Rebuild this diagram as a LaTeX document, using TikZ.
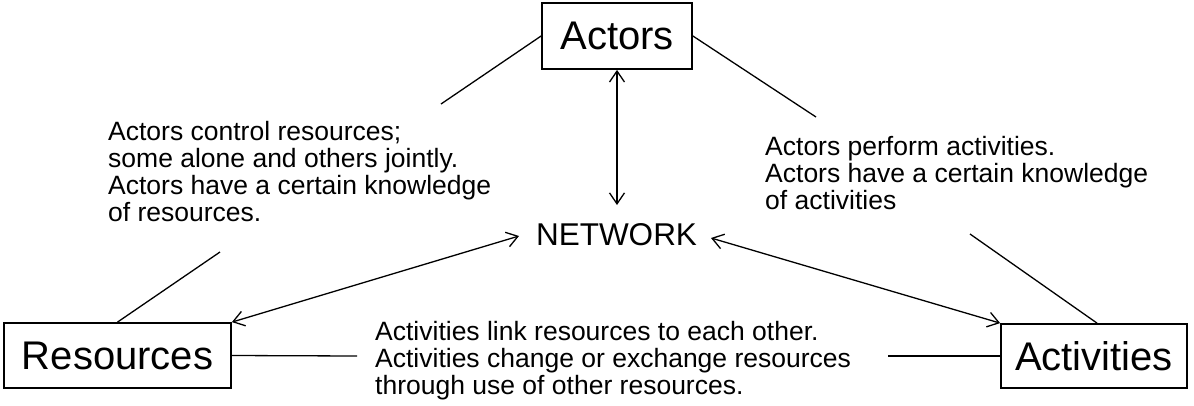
\documentclass[tikz,border=0pt]{standalone}
\usepackage{fontspec}
\setmainfont{Liberation Sans}
\usetikzlibrary{arrows.meta}
\begin{document}
\begin{tikzpicture}[x=1pt,y=-1pt,
  box/.style={draw,line width=1.8pt,inner sep=0pt,font=\fontsize{40}{44}\selectfont},
  ln/.style={line width=1.3pt},
  dbl/.style={line width=1.3pt,{Straight Barb[length=11pt,width=15pt]}-{Straight Barb[length=11pt,width=15pt]}},
  body/.style={align=left,inner sep=0pt,anchor=north west,font=\fontsize{26.5}{26.9}\selectfont}]
\useasboundingbox (0,0) rectangle (1194,405);
\node[box,minimum width=150pt,minimum height=66pt] (act) at (617,36) {Actors};
\node[box,minimum width=227pt,minimum height=65pt] (res) at (117.5,355.5) {Resources};
\node[box,minimum width=186pt,minimum height=64pt] (actv) at (1094,356) {Activities};
\node[inner sep=0pt,font=\fontsize{31.5}{34}\selectfont] (net) at (616.5,235) {NETWORK};
\coordinate (nt) at (617,205);
\coordinate (nl) at (519,236);
\coordinate (nr) at (711,238);
\draw[dbl] (act.south) -- (nt);
\draw[dbl] (nl) -- (res.north east);
\draw[dbl] (nr) -- (actv.north west);
\coordinate (c1) at (441,104);
\coordinate (c2) at (816,117);
\coordinate (c3) at (220,252);
\coordinate (c4) at (970,234);
\coordinate (c5) at (357,356);
\coordinate (c6) at (888,356);
\draw[ln] (act.west) -- (c1);
\draw[ln] (act.east) -- (c2);
\draw[ln] (res.north) -- (c3);
\draw[ln] ([xshift=3pt]actv.north) -- (c4);
\draw[ln] (res.east) -- (c5);
\draw[ln] (actv.west) -- (c6);
\node[body] (t1) at (108,121) {Actors control resources;\\some alone and others jointly.\\Actors have a certain knowledge\\of resources.};
\node[body] (t2) at (765,136) {Actors perform activities.\\Actors have a certain knowledge\\of activities};
\node[body] (t3) at (375,321) {Activities link resources to each other.\\Activities change or exchange resources\\through use of other resources.};
\end{tikzpicture}
\end{document}
